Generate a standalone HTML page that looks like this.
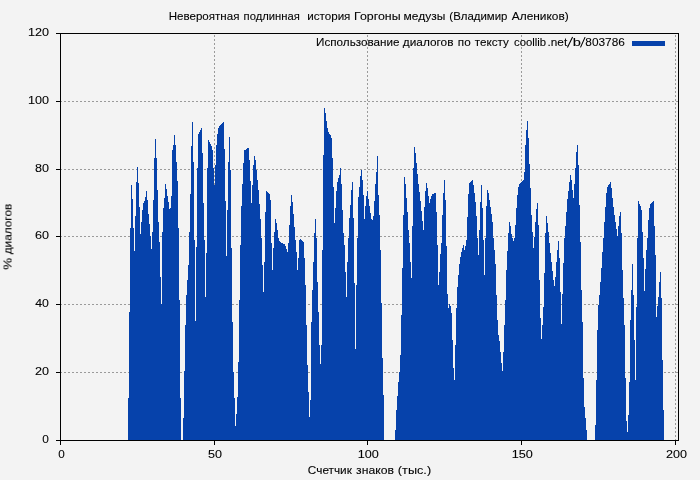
<!DOCTYPE html>
<html><head><meta charset="utf-8"><title>chart</title>
<style>
html,body{margin:0;padding:0;background:#f3f3f3;}
body{width:700px;height:480px;overflow:hidden;position:relative;font-family:"Liberation Sans",sans-serif;}
svg{position:absolute;left:0;top:0;display:block;}
text{font-family:"Liberation Sans",sans-serif;font-size:11px;fill:#000;stroke:#000;stroke-width:0.1px;}
</style></head><body>
<svg width="700" height="480" viewBox="0 0 700 480">
<rect x="0" y="0" width="700" height="480" fill="#f3f3f3"/>
<g shape-rendering="crispEdges" stroke="#9a9a9a" stroke-width="1" fill="none">
<line x1="60" x2="678" y1="372.5" y2="372.5" stroke-dasharray="2,2"/><line x1="60" x2="678" y1="304.5" y2="304.5" stroke-dasharray="2,2"/><line x1="60" x2="678" y1="236.5" y2="236.5" stroke-dasharray="2,2"/><line x1="60" x2="678" y1="169.5" y2="169.5" stroke-dasharray="2,2"/><line x1="60" x2="678" y1="101.5" y2="101.5" stroke-dasharray="2,2"/>
<line y1="35" y2="440" x1="214.5" x2="214.5" stroke-dasharray="2,2"/><line y1="35" y2="440" x1="367.5" x2="367.5" stroke-dasharray="2,2"/><line y1="35" y2="440" x1="521.5" x2="521.5" stroke-dasharray="2,2"/><line y1="35" y2="440" x1="675.5" x2="675.5" stroke-dasharray="2,2"/>
</g>
<path d="M128,440V398H129V312H130V228H131V185H132V199H133V228H134V251H135V216H136V182H137V167H138V183H139V207H140V234H141V222H142V210H143V203H144V201H145V197H146V191H147V200H148V214H149V224H150V236H151V249H152V232H153V200H154V158H155V139H156V158H157V190H158V222H159V242H160V277H161V304H162V232H163V208H164V198H165V184H166V189H167V196H168V202H169V209H170V208H171V196H172V150H173V145H174V135H175V145H176V162H177V181H178V228H179V300H180V398H181V440H182V440H183V418H184V371H185V325H186V295H187V280H188V265H189V232H190V194H191V146H192V122H193V162H194V240H195V321H196V247H197V168H198V134H199V132H200V130H201V128H202V153H203V203H204V240H205V297H206V253H207V168H208V140H209V142H210V144H211V146H212V150H213V168H214V185H215V165H216V145H217V134H218V128H219V126H220V125H221V124H222V123H223V122H224V149H225V201H226V256H227V210H228V162H229V137H230V170H231V248H232V322H233V372H234V398H235V426H236V414H237V397H238V362H239V300H240V245H241V206H242V184H243V163H244V150H245V150H246V149H247V148H248V148H249V160H250V181H251V203H252V185H253V165H254V156H255V160H256V170H257V180H258V190H259V204H260V219H261V238H262V265H263V292H264V262H265V212H266V191H267V192H268V193H269V194H270V200H271V243H272V270H273V248H274V232H275V219H276V223H277V230H278V238H279V241H280V242H281V243H282V243H283V244H284V244H285V246H286V249H287V252H288V243H289V225H290V206H291V195H292V202H293V214H294V227H295V240H296V252H297V270H298V258H299V240H300V239H301V240H302V241H303V242H304V258H305V285H306V325H307V365H308V392H309V417H310V400H311V322H312V290H313V262H314V233H315V219H316V238H317V282H318V312H319V345H320V364H321V345H322V250H323V155H324V108H325V113H326V121H327V128H328V132H329V134H330V135H331V138H332V158H333V187H334V223H335V208H336V191H337V182H338V178H339V175H340V168H341V184H342V210H343V233H344V245H345V272H346V297H347V262H348V238H349V218H350V205H351V190H352V182H353V218H354V283H355V349H356V285H357V238H358V197H359V187H360V176H361V170H362V180H363V195H364V219H365V206H366V196H367V191H368V199H369V206H370V213H371V219H372V220H373V216H374V201H375V184H376V172H377V156H378V195H379V215H380V250H381V303H382V358H383V395H384V440H385V440H386V440H387V440H388V440H389V440H390V440H391V440H392V440H393V440H394V440H395V430H396V410H397V396H398V382H399V372H400V355H401V315H402V268H403V215H404V177H405V184H406V198H407V212H408V230H409V243H410V262H411V278H412V226H413V168H414V147H415V153H416V163H417V174H418V184H419V192H420V201H421V211H422V221H423V230H424V207H425V191H426V183H427V188H428V196H429V203H430V199H431V196H432V194H433V194H434V193H435V193H436V212H437V245H438V285H439V272H440V254H441V243H442V215H443V193H444V180H445V200H446V246H447V294H448V308H449V304H450V306H451V313H452V340H453V368H454V380H455V345H456V308H457V287H458V275H459V264H460V257H461V252H462V248H463V245H464V250H465V246H466V240H467V217H468V194H469V183H470V182H471V181H472V180H473V185H474V193H475V202H476V216H477V238H478V255H479V230H480V202H481V185H482V208H483V240H484V275H485V238H486V206H487V190H488V193H489V200H490V207H491V214H492V222H493V238H494V250H495V264H496V295H497V320H498V335H499V341H500V352H501V363H502V371H503V352H504V325H505V300H506V270H507V251H508V233H509V222H510V226H511V234H512V238H513V241H514V238H515V225H516V208H517V195H518V187H519V184H520V183H521V182H522V181H523V180H524V172H525V145H526V130H527V121H528V138H529V164H530V188H531V215H532V232H533V248H534V237H535V222H536V209H537V203H538V225H539V280H540V318H541V339H542V325H543V307H544V273H545V233H546V216H547V223H548V232H549V243H550V253H551V262H552V271H553V280H554V286H555V277H556V262H557V250H558V241H559V258H560V292H561V324H562V294H563V263H564V238H565V226H566V212H567V199H568V191H569V182H570V175H571V180H572V190H573V198H574V184H575V168H576V152H577V145H578V165H579V205H580V242H581V290H582V322H583V378H584V407H585V418H586V430H587V440H588V440H589V440H590V440H591V440H592V440H593V440H594V440H595V425H596V380H597V330H598V305H599V295H600V282H601V268H602V252H603V238H604V222H605V207H606V193H607V187H608V185H609V184H610V182H611V188H612V198H613V207H614V215H615V222H616V229H617V236H618V226H619V216H620V212H621V233H622V270H623V298H624V325H625V378H626V421H627V432H628V415H629V382H630V320H631V290H632V264H633V295H634V340H635V380H636V307H637V238H638V201H639V204H640V206H641V210H642V232H643V258H644V291H645V269H646V250H647V238H648V220H649V208H650V204H651V203H652V202H653V201H654V226H655V255H656V317H657V306H658V297H659V282H660V272H661V298H662V360H663V410H664V440Z" fill="#0642ab" shape-rendering="crispEdges"/>
<g shape-rendering="crispEdges" stroke="#000" stroke-width="1" fill="none">
<path d="M60.5,33V441M60,33.5H679M678.5,33V441M60,440.5H679"/>
<path d="M56,440.5H60M56,372.5H60M56,304.5H60M56,236.5H60M56,169.5H60M56,101.5H60M56,33.5H60"/>
<path d="M60.5,441V445M214.5,441V445M367.5,441V445M521.5,441V445M675.5,441V445"/>
</g>
<rect x="632" y="41" width="33" height="5" fill="#0642ab" shape-rendering="crispEdges"/>
<path d="M567.4,47.4L572.6,37.1M580.5,47.4L585.1,37.1" stroke="#000" stroke-width="1.1" fill="none"/>
<g style="opacity:0.999">
<text x="168.68" y="20" textLength="70.74" lengthAdjust="spacingAndGlyphs">Невероятная</text>
<text x="243.63" y="20" textLength="56.18" lengthAdjust="spacingAndGlyphs">подлинная</text>
<text x="307.21" y="20" textLength="43.22" lengthAdjust="spacingAndGlyphs">история</text>
<text x="354.02" y="20" textLength="46.52" lengthAdjust="spacingAndGlyphs">Горгоны</text>
<text x="403.58" y="20" textLength="41.70" lengthAdjust="spacingAndGlyphs">медузы</text>
<text x="449.35" y="20" textLength="58.10" lengthAdjust="spacingAndGlyphs">(Владимир</text>
<text x="511.80" y="20" textLength="56.91" lengthAdjust="spacingAndGlyphs">Алеников)</text>
<text x="316.07" y="46" textLength="83.44" lengthAdjust="spacingAndGlyphs">Использование</text>
<text x="402.87" y="46" textLength="50.62" lengthAdjust="spacingAndGlyphs">диалогов</text>
<text x="457.80" y="46" textLength="12.88" lengthAdjust="spacingAndGlyphs">по</text>
<text x="474.87" y="46" textLength="34.08" lengthAdjust="spacingAndGlyphs">тексту</text>
<text x="513.99" y="46" textLength="32.06" lengthAdjust="spacingAndGlyphs">coollib</text>
<text x="547.53" y="46" textLength="19.69" lengthAdjust="spacingAndGlyphs">.net</text>
<text x="572.80" y="46" textLength="8.17" lengthAdjust="spacingAndGlyphs">b</text>
<text x="585.36" y="46" textLength="39.54" lengthAdjust="spacingAndGlyphs">803786</text>
<text x="307.86" y="474" textLength="43.97" lengthAdjust="spacingAndGlyphs">Счетчик</text>
<text x="356.12" y="474" textLength="37.85" lengthAdjust="spacingAndGlyphs">знаков</text>
<text x="397.88" y="474" textLength="33.23" lengthAdjust="spacingAndGlyphs">(тыс.)</text>
<text x="42.30" y="443" textLength="6.61" lengthAdjust="spacingAndGlyphs">0</text>
<text x="34.93" y="375" textLength="14.00" lengthAdjust="spacingAndGlyphs">20</text>
<text x="35.22" y="307" textLength="13.70" lengthAdjust="spacingAndGlyphs">40</text>
<text x="34.93" y="239" textLength="14.00" lengthAdjust="spacingAndGlyphs">60</text>
<text x="34.93" y="172" textLength="14.00" lengthAdjust="spacingAndGlyphs">80</text>
<text x="27.90" y="104" textLength="21.01" lengthAdjust="spacingAndGlyphs">100</text>
<text x="27.90" y="36" textLength="21.01" lengthAdjust="spacingAndGlyphs">120</text>
<text x="58.20" y="458" textLength="6.50" lengthAdjust="spacingAndGlyphs">0</text>
<text x="207.93" y="458" textLength="14.00" lengthAdjust="spacingAndGlyphs">50</text>
<text x="357.79" y="458" textLength="21.12" lengthAdjust="spacingAndGlyphs">100</text>
<text x="511.79" y="458" textLength="21.12" lengthAdjust="spacingAndGlyphs">150</text>
<text x="665.93" y="458" textLength="20.98" lengthAdjust="spacingAndGlyphs">200</text>
<g transform="translate(11.5,0) rotate(-90)"><text x="-269.65" y="0" textLength="11.85" lengthAdjust="spacingAndGlyphs">%</text><text x="-254.33" y="0" textLength="50.62" lengthAdjust="spacingAndGlyphs">диалогов</text></g>
</g>
</svg>
</body></html>
